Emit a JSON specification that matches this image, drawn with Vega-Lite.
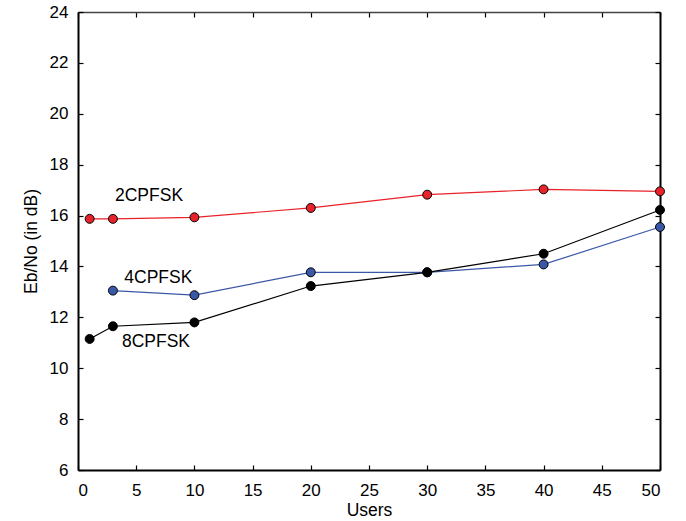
{
  "$schema": "https://vega.github.io/schema/vega-lite/v6.json",
  "autosize": "none",
  "padding": {"left": 78, "top": 12, "right": 26, "bottom": 51},
  "width": 582,
  "height": 458,
  "config": {
    "font": "Liberation Sans",
    "view": {"stroke": null},
    "axis": {"grid": false, "domainColor": "black", "domainWidth": 2, "tickColor": "black", "tickWidth": 1.2, "tickSize": -5, "labelFontSize": 17, "titleFontSize": 17.5, "labelColor": "black", "titleColor": "black", "titleFontWeight": "normal"}
  },
  "resolve": {"axis": {"x": "independent", "y": "independent"}},
  "datasets": {
    "series": [
      {"users": 1, "ebno": 15.87, "mod": "2CPFSK"},
      {"users": 3, "ebno": 15.87, "mod": "2CPFSK"},
      {"users": 10, "ebno": 15.93, "mod": "2CPFSK"},
      {"users": 20, "ebno": 16.3, "mod": "2CPFSK"},
      {"users": 30, "ebno": 16.82, "mod": "2CPFSK"},
      {"users": 40, "ebno": 17.03, "mod": "2CPFSK"},
      {"users": 50, "ebno": 16.95, "mod": "2CPFSK"},
      {"users": 3, "ebno": 13.05, "mod": "4CPFSK"},
      {"users": 10, "ebno": 12.87, "mod": "4CPFSK"},
      {"users": 20, "ebno": 13.77, "mod": "4CPFSK"},
      {"users": 30, "ebno": 13.77, "mod": "4CPFSK"},
      {"users": 40, "ebno": 14.08, "mod": "4CPFSK"},
      {"users": 50, "ebno": 15.55, "mod": "4CPFSK"},
      {"users": 1, "ebno": 11.15, "mod": "8CPFSK"},
      {"users": 3, "ebno": 11.65, "mod": "8CPFSK"},
      {"users": 10, "ebno": 11.8, "mod": "8CPFSK"},
      {"users": 20, "ebno": 13.23, "mod": "8CPFSK"},
      {"users": 30, "ebno": 13.77, "mod": "8CPFSK"},
      {"users": 40, "ebno": 14.5, "mod": "8CPFSK"},
      {"users": 50, "ebno": 16.22, "mod": "8CPFSK"}
    ],
    "labels": [
      {"users": 6.1, "ebno": 16.75, "mod": "2CPFSK"},
      {"users": 6.9, "ebno": 13.55, "mod": "4CPFSK"},
      {"users": 6.7, "ebno": 11.05, "mod": "8CPFSK"}
    ]
  },
  "layer": [
    {
      "data": {"name": "series"},
      "mark": {"type": "line", "strokeWidth": 1.2},
      "encoding": {
        "x": {"field": "users", "type": "quantitative", "scale": {"domain": [0, 50], "nice": false}, "axis": {"values": [0,5,10,15,20,25,30,35,40,45,50], "title": "Users", "titlePadding": 3, "labelPadding": 17}},
        "y": {"field": "ebno", "type": "quantitative", "scale": {"domain": [6, 24], "nice": false, "zero": false}, "axis": {"values": [6,8,10,12,14,16,18,20,22,24], "title": "Eb/No (in dB)", "labelPadding": 15, "titlePadding": 9}},
        "color": {"field": "mod", "type": "nominal", "scale": {"domain": ["2CPFSK", "4CPFSK", "8CPFSK"], "range": ["#e8222a", "#3a58a8", "#000000"]}, "legend": null}
      }
    },
    {
      "data": {"name": "series"},
      "mark": {"type": "point", "filled": true, "size": 80, "stroke": "black", "strokeWidth": 1, "opacity": 1},
      "encoding": {
        "x": {"field": "users", "type": "quantitative", "axis": {"orient": "top", "values": [0,5,10,15,20,25,30,35,40,45,50], "labels": false, "title": null, "domainWidth": 1.5, "domainColor": "#444444"}},
        "y": {"field": "ebno", "type": "quantitative", "axis": {"orient": "right", "values": [6,8,10,12,14,16,18,20,22,24], "labels": false, "title": null}},
        "fill": {"field": "mod", "type": "nominal", "scale": {"domain": ["2CPFSK", "4CPFSK", "8CPFSK"], "range": ["#e8222a", "#3a58a8", "#000000"]}, "legend": null}
      }
    },
    {
      "data": {"name": "labels"},
      "mark": {"type": "text", "fontSize": 17.5, "color": "black"},
      "encoding": {
        "x": {"field": "users", "type": "quantitative", "axis": null},
        "y": {"field": "ebno", "type": "quantitative", "axis": null},
        "text": {"field": "mod"}
      }
    }
  ]
}
